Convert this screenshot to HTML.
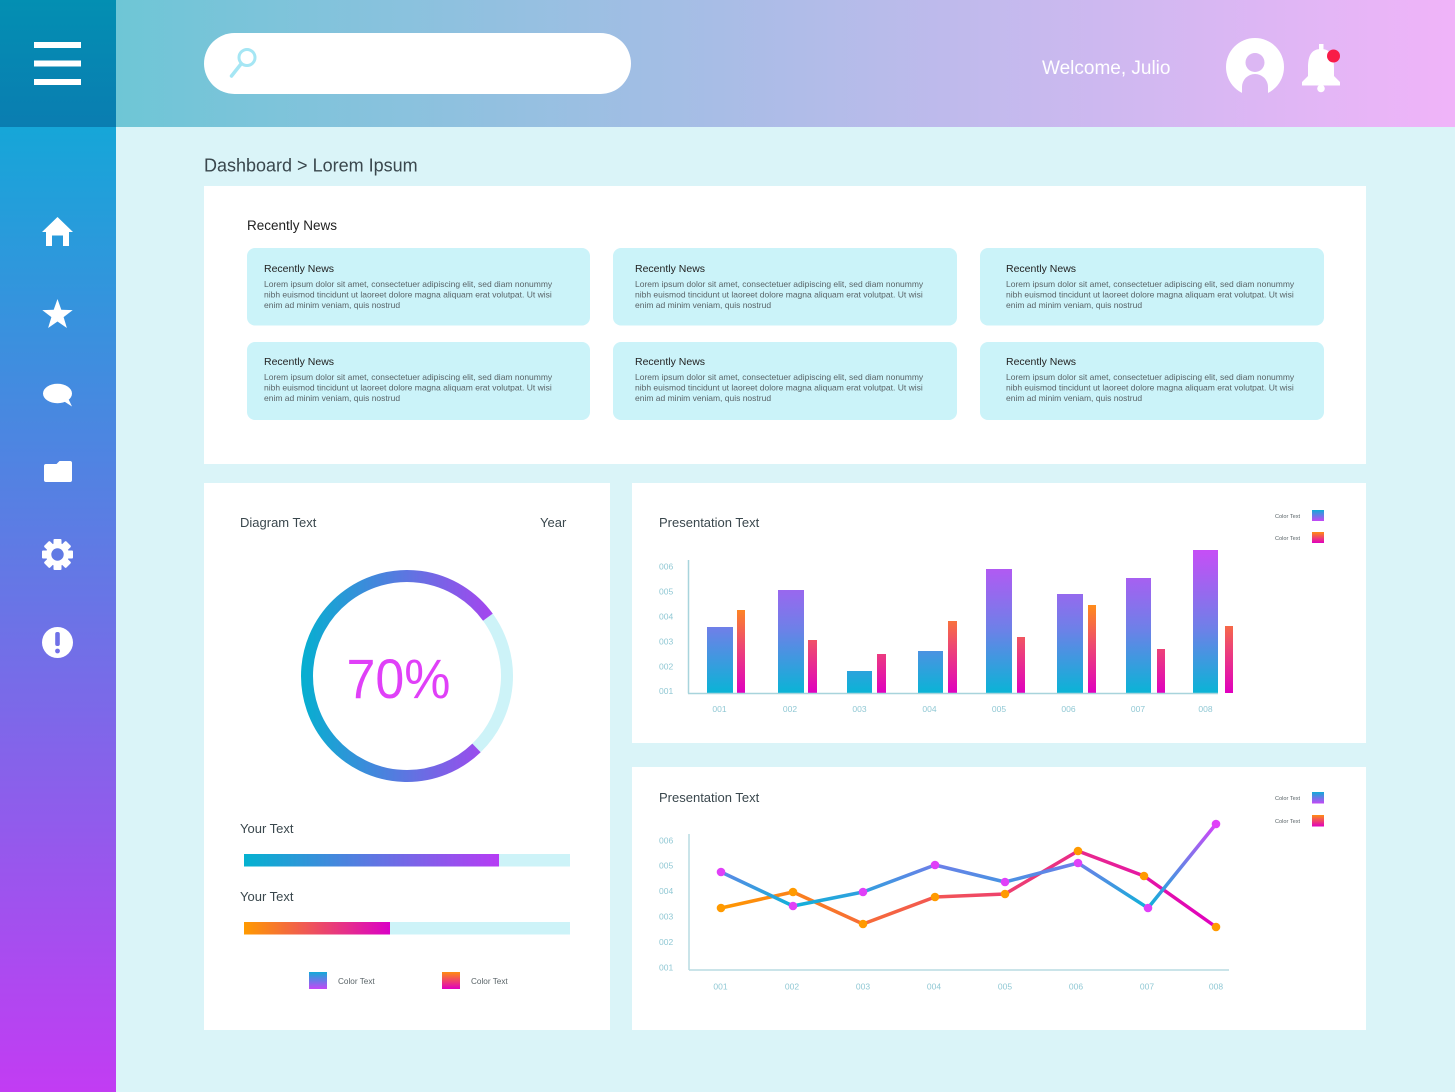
<!DOCTYPE html>
<html><head><meta charset="utf-8"><style>
html,body{margin:0;padding:0;background:#daf4f8;}
svg{display:block;font-family:"Liberation Sans",sans-serif;}
</style></head><body>
<svg width="1455" height="1092" viewBox="0 0 1455 1092" xmlns="http://www.w3.org/2000/svg">
<defs>
<linearGradient id="hdr" gradientUnits="userSpaceOnUse" x1="116" y1="0" x2="1455" y2="0"><stop offset="0" stop-color="#6ec6d6"/><stop offset="0.45" stop-color="#a8bde6"/><stop offset="1" stop-color="#f0b4f9"/></linearGradient>
<linearGradient id="tl" x1="0" y1="0" x2="0" y2="1"><stop offset="0" stop-color="#038fb2"/><stop offset="1" stop-color="#0a7db1"/></linearGradient>
<linearGradient id="side" gradientUnits="userSpaceOnUse" x1="0" y1="127" x2="0" y2="1092"><stop offset="0" stop-color="#16a6d8"/><stop offset="0.5" stop-color="#6a74e6"/><stop offset="1" stop-color="#c23cf3"/></linearGradient>
<linearGradient id="ring" gradientUnits="userSpaceOnUse" x1="301" y1="0" x2="513" y2="0"><stop offset="0" stop-color="#05b0d0"/><stop offset="1" stop-color="#b63af2"/></linearGradient>
<linearGradient id="pb1" gradientUnits="userSpaceOnUse" x1="244" y1="0" x2="499" y2="0"><stop offset="0" stop-color="#04b2d0"/><stop offset="1" stop-color="#b63cf4"/></linearGradient>
<linearGradient id="pb2" gradientUnits="userSpaceOnUse" x1="244" y1="0" x2="390" y2="0"><stop offset="0" stop-color="#ff9a00"/><stop offset="1" stop-color="#da00c6"/></linearGradient>
<linearGradient id="sqA" x1="0" y1="0" x2="0" y2="1"><stop offset="0" stop-color="#12aad8"/><stop offset="1" stop-color="#c448f6"/></linearGradient>
<linearGradient id="sqB" x1="0" y1="0" x2="0" y2="1"><stop offset="0" stop-color="#ff8c12"/><stop offset="1" stop-color="#e000c0"/></linearGradient>
<linearGradient id="barA" gradientUnits="userSpaceOnUse" x1="0" y1="693" x2="0" y2="550"><stop offset="0" stop-color="#0ab4d6"/><stop offset="0.45" stop-color="#6e80e8"/><stop offset="1" stop-color="#c64ef6"/></linearGradient>
<linearGradient id="barB" gradientUnits="userSpaceOnUse" x1="0" y1="693" x2="0" y2="605"><stop offset="0" stop-color="#e000c0"/><stop offset="0.55" stop-color="#ee4a70"/><stop offset="1" stop-color="#ff8c1a"/></linearGradient>
<linearGradient id="lnA" gradientUnits="userSpaceOnUse" x1="0" y1="908" x2="0" y2="824"><stop offset="0" stop-color="#0eb2d8"/><stop offset="0.5" stop-color="#6a80e8"/><stop offset="1" stop-color="#d444f8"/></linearGradient>
<linearGradient id="lnB" gradientUnits="userSpaceOnUse" x1="721" y1="0" x2="1216" y2="0"><stop offset="0" stop-color="#ff9800"/><stop offset="0.5" stop-color="#f04c60"/><stop offset="1" stop-color="#e000c0"/></linearGradient>
</defs>

<rect x="0" y="0" width="1455" height="1092" fill="#daf4f8"/>
<rect x="116" y="0" width="1339" height="127" fill="url(#hdr)"/>
<rect x="0" y="0" width="116" height="127" fill="url(#tl)"/>
<rect x="0" y="127" width="116" height="965" fill="url(#side)"/>
<rect x="34" y="42" width="47" height="6" fill="#fff"/>
<rect x="34" y="60.5" width="47" height="6" fill="#fff"/>
<rect x="34" y="79" width="47" height="6" fill="#fff"/>
<rect x="204" y="33" width="427" height="61" rx="30.5" fill="#fff"/>
<circle cx="247" cy="57.5" r="8" fill="none" stroke="#a5e6f4" stroke-width="3"/>
<line x1="241" y1="64" x2="231.5" y2="76" stroke="#a5e6f4" stroke-width="3.5" stroke-linecap="round"/>
<text x="1042" y="74" font-size="19" fill="#fff">Welcome, Julio</text>
<circle cx="1255" cy="67" r="29" fill="#fff"/>
<circle cx="1255" cy="62.5" r="9.5" fill="#dcb7f3"/>
<path d="M1242,100 L1242,87 A13,13 0 0 1 1268,87 L1268,100 Z" fill="#dcb7f3"/>
<rect x="1319" y="44" width="4.5" height="8" fill="#fff"/>
<path d="M1321,49 C1310,49 1308,58 1308,68 L1308,76 L1302,82 L1302,85.5 L1340,85.5 L1340,82 L1334,76 L1334,68 C1334,58 1332,49 1321,49 Z" fill="#fff"/>
<circle cx="1321" cy="88.5" r="3.8" fill="#fff"/>
<circle cx="1333.5" cy="56" r="6.5" fill="#f81c48"/>

<path d="M42,232 L57.5,217 L73,232 L69,232 L69,246 L63,246 L63,235.5 L52,235.5 L52,246 L46,246 L46,232 Z" fill="#fff"/>
<polygon fill="#fff" points="57.5,299 61.3,309.8 72.7,310.1 63.6,317.1 66.9,328 57.5,321.5 48.1,328 51.4,317.1 42.3,310.1 53.7,309.8"/>
<ellipse cx="57.5" cy="393.5" rx="14.5" ry="9.8" fill="#fff"/>
<polygon points="62,400 72,406.5 67,396" fill="#fff"/>
<path d="M44,466 Q44,464 46,464 L56.5,464 L59.5,461 L70,461 Q72,461 72,463 L72,480 Q72,482 70,482 L46,482 Q44,482 44,480 Z" fill="#fff"/>
<g transform="translate(57.5,554.5)" fill="#fff">
<circle r="11.5"/>
<rect x="-4" y="-15.5" width="8" height="31" rx="1"/>
<rect x="-4" y="-15.5" width="8" height="31" rx="1" transform="rotate(45)"/>
<rect x="-4" y="-15.5" width="8" height="31" rx="1" transform="rotate(90)"/>
<rect x="-4" y="-15.5" width="8" height="31" rx="1" transform="rotate(135)"/>
</g>
<circle cx="57.5" cy="554.5" r="6.2" fill="url(#side)"/>
<circle cx="57.5" cy="642.5" r="15.5" fill="#fff"/>
<rect x="55.2" y="632" width="4.6" height="14" rx="2" fill="url(#side)"/>
<circle cx="57.5" cy="651" r="2.4" fill="url(#side)"/>

<text x="204" y="171.5" font-size="18" fill="#3a474d">Dashboard &gt; Lorem Ipsum</text>

<rect x="204" y="186" width="1162" height="278" fill="#fff"/>
<text x="247" y="230" font-size="13.5" fill="#222">Recently News</text>

<g>
<rect x="247" y="248" width="343" height="77.5" rx="8" fill="#cbf3f9"/>
<rect x="613" y="248" width="344" height="77.5" rx="8" fill="#cbf3f9"/>
<rect x="980" y="248" width="344" height="77.5" rx="8" fill="#cbf3f9"/>
<rect x="247" y="342" width="343" height="78" rx="8" fill="#cbf3f9"/>
<rect x="613" y="342" width="344" height="78" rx="8" fill="#cbf3f9"/>
<rect x="980" y="342" width="344" height="78" rx="8" fill="#cbf3f9"/>
</g>
<g fill="#222" font-size="10.5">
<text x="264" y="272">Recently News</text>
<text x="635" y="272">Recently News</text>
<text x="1006" y="272">Recently News</text>
<text x="264" y="365">Recently News</text>
<text x="635" y="365">Recently News</text>
<text x="1006" y="365">Recently News</text>
</g>
<g fill="#5a6468" font-size="8.5">
<text x="264" y="287">Lorem ipsum dolor sit amet, consectetuer adipiscing elit, sed diam nonummy</text>
<text x="264" y="297.5">nibh euismod tincidunt ut laoreet dolore magna aliquam erat volutpat. Ut wisi</text>
<text x="264" y="308">enim ad minim veniam, quis nostrud</text>
<text x="635" y="287">Lorem ipsum dolor sit amet, consectetuer adipiscing elit, sed diam nonummy</text>
<text x="635" y="297.5">nibh euismod tincidunt ut laoreet dolore magna aliquam erat volutpat. Ut wisi</text>
<text x="635" y="308">enim ad minim veniam, quis nostrud</text>
<text x="1006" y="287">Lorem ipsum dolor sit amet, consectetuer adipiscing elit, sed diam nonummy</text>
<text x="1006" y="297.5">nibh euismod tincidunt ut laoreet dolore magna aliquam erat volutpat. Ut wisi</text>
<text x="1006" y="308">enim ad minim veniam, quis nostrud</text>
<text x="264" y="380">Lorem ipsum dolor sit amet, consectetuer adipiscing elit, sed diam nonummy</text>
<text x="264" y="390.5">nibh euismod tincidunt ut laoreet dolore magna aliquam erat volutpat. Ut wisi</text>
<text x="264" y="401">enim ad minim veniam, quis nostrud</text>
<text x="635" y="380">Lorem ipsum dolor sit amet, consectetuer adipiscing elit, sed diam nonummy</text>
<text x="635" y="390.5">nibh euismod tincidunt ut laoreet dolore magna aliquam erat volutpat. Ut wisi</text>
<text x="635" y="401">enim ad minim veniam, quis nostrud</text>
<text x="1006" y="380">Lorem ipsum dolor sit amet, consectetuer adipiscing elit, sed diam nonummy</text>
<text x="1006" y="390.5">nibh euismod tincidunt ut laoreet dolore magna aliquam erat volutpat. Ut wisi</text>
<text x="1006" y="401">enim ad minim veniam, quis nostrud</text>
</g>

<rect x="204" y="483" width="406" height="547" fill="#fff"/>
<text x="240" y="527" font-size="13" fill="#3a474d">Diagram Text</text>
<text x="540" y="527" font-size="13" fill="#3a474d">Year</text>
<path d="M487.9,617.2 A100,100 0 0 1 476.5,747.9" fill="none" stroke="#cdf3f8" stroke-width="12"/>
<path d="M487.9,617.2 A100,100 0 1 0 476.5,747.9" fill="none" stroke="url(#ring)" stroke-width="12"/>
<text x="398.5" y="698" font-size="56" fill="#e040f8" text-anchor="middle" textLength="104" lengthAdjust="spacingAndGlyphs">70%</text>

<text x="240" y="833" font-size="13" fill="#3a474d">Your Text</text>
<rect x="244" y="854" width="326" height="12.5" fill="#cdf3f8"/>
<rect x="244" y="854" width="255" height="12.5" fill="url(#pb1)"/>
<text x="240" y="901" font-size="13" fill="#3a474d">Your Text</text>
<rect x="244" y="922" width="326" height="12.5" fill="#cdf3f8"/>
<rect x="244" y="922" width="146" height="12.5" fill="url(#pb2)"/>
<rect x="309" y="972" width="18" height="17" fill="url(#sqA)"/>
<text x="338" y="984" font-size="8.2" fill="#5a6468">Color Text</text>
<rect x="442" y="972" width="18" height="17" fill="url(#sqB)"/>
<text x="471" y="984" font-size="8.2" fill="#5a6468">Color Text</text>

<rect x="632" y="483" width="734" height="260" fill="#fff"/>
<text x="659" y="527" font-size="13" fill="#3a474d">Presentation Text</text>
<g font-size="5.6" fill="#5a6468">
<text x="1275" y="518">Color Text</text>
<text x="1275" y="540">Color Text</text>
</g>
<rect x="1312" y="510" width="12" height="11" fill="url(#sqA)"/>
<rect x="1312" y="532" width="12" height="11" fill="url(#sqB)"/>
<g font-size="8.5" fill="#90c8d4">
<text x="659" y="569.5">006</text>
<text x="659" y="594.5">005</text>
<text x="659" y="619.5">004</text>
<text x="659" y="644.5">003</text>
<text x="659" y="669.5">002</text>
<text x="659" y="694">001</text>
</g>
<g font-size="8.5" fill="#90c8d4" text-anchor="middle">
<text x="719.5" y="712">001</text>
<text x="790" y="712">002</text>
<text x="859.5" y="712">003</text>
<text x="929.5" y="712">004</text>
<text x="999" y="712">005</text>
<text x="1068.5" y="712">006</text>
<text x="1138" y="712">007</text>
<text x="1205.5" y="712">008</text>
</g>
<g fill="url(#barA)">
<rect x="707" y="627" width="26" height="66"/>
<rect x="778" y="590" width="26" height="103"/>
<rect x="847" y="671" width="25" height="22"/>
<rect x="918" y="651" width="25" height="42"/>
<rect x="986" y="569" width="26" height="124"/>
<rect x="1057" y="594" width="26" height="99"/>
<rect x="1126" y="578" width="25" height="115"/>
<rect x="1193" y="550" width="25" height="143"/>
</g>
<g fill="url(#barB)">
<rect x="737" y="610" width="8" height="83"/>
<rect x="808" y="640" width="9" height="53"/>
<rect x="877" y="654" width="9" height="39"/>
<rect x="948" y="621" width="9" height="72"/>
<rect x="1017" y="637" width="8" height="56"/>
<rect x="1088" y="605" width="8" height="88"/>
<rect x="1157" y="649" width="8" height="44"/>
<rect x="1225" y="626" width="8" height="67"/>
</g>
<line x1="688.5" y1="560" x2="688.5" y2="693.5" stroke="#a8d4dc" stroke-width="1.5"/>
<line x1="688" y1="693.5" x2="1218" y2="693.5" stroke="#a8d4dc" stroke-width="1.5"/>

<rect x="632" y="767" width="734" height="263" fill="#fff"/>
<text x="659" y="802" font-size="13" fill="#3a474d">Presentation Text</text>
<g font-size="5.6" fill="#5a6468">
<text x="1275" y="800">Color Text</text>
<text x="1275" y="823">Color Text</text>
</g>
<rect x="1312" y="792" width="12" height="11.5" fill="url(#sqA)"/>
<rect x="1312" y="815" width="12" height="11.5" fill="url(#sqB)"/>
<g font-size="8.5" fill="#90c8d4">
<text x="659" y="843.5">006</text>
<text x="659" y="868.5">005</text>
<text x="659" y="894">004</text>
<text x="659" y="919.5">003</text>
<text x="659" y="945">002</text>
<text x="659" y="970.5">001</text>
</g>
<g font-size="8.5" fill="#90c8d4" text-anchor="middle">
<text x="720.5" y="989.5">001</text>
<text x="792" y="989.5">002</text>
<text x="863" y="989.5">003</text>
<text x="934" y="989.5">004</text>
<text x="1005" y="989.5">005</text>
<text x="1076" y="989.5">006</text>
<text x="1147" y="989.5">007</text>
<text x="1216" y="989.5">008</text>
</g>
<line x1="689" y1="834" x2="689" y2="970" stroke="#b8dce2" stroke-width="1.5"/>
<line x1="689" y1="970" x2="1229" y2="970" stroke="#b8dce2" stroke-width="1.5"/>
<polyline points="721,908 793,892 863,924 935,897 1005,894 1078,851 1144,876 1216,927" fill="none" stroke="url(#lnB)" stroke-width="3.5" stroke-linejoin="round"/>
<polyline points="721,872 793,906 863,892 935,865 1005,882 1078,863 1148,908 1216,824" fill="none" stroke="url(#lnA)" stroke-width="3.5" stroke-linejoin="round"/>
<g fill="#e040f8">
<circle cx="721" cy="872" r="4.3"/><circle cx="793" cy="906" r="4.3"/><circle cx="863" cy="892" r="4.3"/><circle cx="935" cy="865" r="4.3"/>
<circle cx="1005" cy="882" r="4.3"/><circle cx="1078" cy="863" r="4.3"/><circle cx="1148" cy="908" r="4.3"/><circle cx="1216" cy="824" r="4.3"/>
</g>
<g fill="#ff9a00">
<circle cx="721" cy="908" r="4.3"/><circle cx="793" cy="892" r="4.3"/><circle cx="863" cy="924" r="4.3"/><circle cx="935" cy="897" r="4.3"/>
<circle cx="1005" cy="894" r="4.3"/><circle cx="1078" cy="851" r="4.3"/><circle cx="1144" cy="876" r="4.3"/><circle cx="1216" cy="927" r="4.3"/>
</g>
</svg>
</body></html>
